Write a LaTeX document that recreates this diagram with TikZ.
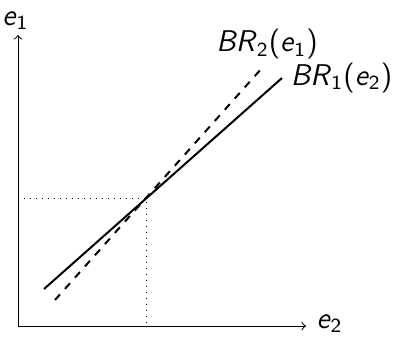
\documentclass[tikz,border=0pt]{standalone}
\usepackage{amsmath,amssymb}
\usepackage{tikz}
\newcommand{\vsl}[2]{\textsl{#1}\textsubscript{#2}}

\begin{document}
\begin{tikzpicture}[x=.4pt,y=-.4pt,line width=.4pt,font=\sffamily\large]
\useasboundingbox (0,0) rectangle (394,336);
\coordinate (o) at (18,326);
\coordinate (eq) at (146,198);
\draw[->] (o)--(306,326) node[right,inner sep=4pt,yshift=1pt] (xl) {\vsl{e}{2}};
\draw[->] (o)--(18,35) node[above,inner sep=2pt,xshift=-1pt] (yl) {\vsl{e}{1}};
\draw[dotted] (eq-|o)--(eq)--(eq|-o);
\draw[line width=.8pt] (44,289) coordinate (s1)--(282,78) coordinate (s2);
\draw[line width=.8pt,dashed] (55,300) coordinate (d1)--(262,68) coordinate (d2);
\node[right] (br1) at (s2) {\vsl{BR}{1}(\vsl{e}{2})};
\node[above,xshift=2pt] (br2) at (d2) {\vsl{BR}{2}(\vsl{e}{1})};
\end{tikzpicture}
\end{document}
